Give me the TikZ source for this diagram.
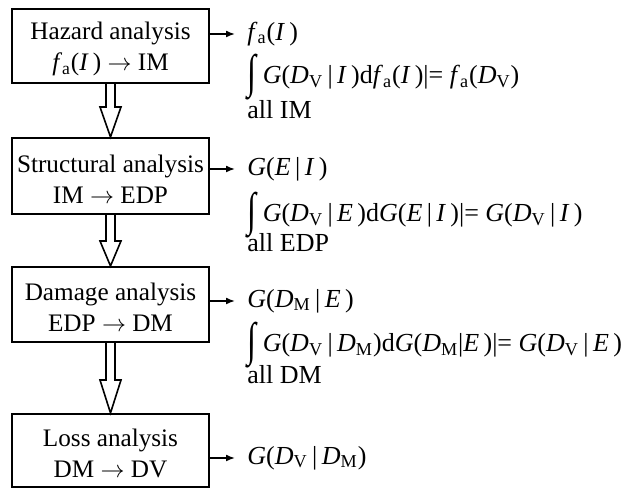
\documentclass[tikz,border=0pt]{standalone}
\usepackage{fontspec}
\setmainfont{Liberation Serif}
\usetikzlibrary{positioning, arrows.meta, calc}

\newcommand{\vi}[1]{\textit{#1}}
\newcommand{\subt}[1]{\textsubscript{#1}}
\newcommand{\given}{\hspace{0.17em}|\hspace{0.17em}}
\newcommand{\intsign}{\raisebox{-2pt}{\scalebox{1.25}[1.8]{∫}}\hspace{0.25em}}

\newcommand{\hollowarrow}[3]{% from, to, head length
  \draw[hollow]
    ($(#1.south)+(-4.5,0)$) -- ($(#2.north)+(-4.5,-#3)$) -- ++(-6,0)
    -- (#2.north) -- ($(#2.north)+(10.5,-#3)$) -- ++(-6,0)
    -- ($(#1.south)+(4.5,0)$);}

\begin{document}
\begin{tikzpicture}[x=0.5pt, y=-0.5pt,
    stage/.style={draw=black, line width=1pt, minimum width=98.5pt,
      align=center, inner sep=0pt, font=\fontsize{12.6}{15.5}\selectfont},
    result/.style={anchor=west, inner sep=0pt, font=\fontsize{13}{16}\selectfont},
    outarrow/.style={line width=0.8pt, -{Latex[length=4.5pt, width=3.5pt]}, shorten >=6pt},
    hollow/.style={line width=0.8pt, black, line join=miter}]
  \useasboundingbox (0,0) rectangle (628,490);

  % analysis stages
  \node[stage, minimum height=37pt] (hazard) at (110.5,46)
    {\rule{0pt}{12pt}Hazard analysis\\ \vi{f}\subt{a}(\vi{I}\,) $\rightarrow$ IM};
  \node[stage, minimum height=38pt] (struct) at (110.5,176)
    {\rule{0pt}{12pt}Structural analysis\\ IM $\rightarrow$ EDP};
  \node[stage, minimum height=37.5pt] (damage) at (110.5,304.5)
    {\rule{0pt}{12pt}Damage analysis\\ EDP $\rightarrow$ DM};
  \node[stage, minimum height=36.5pt] (loss) at (110.5,450.5)
    {\rule{0pt}{12pt}Loss analysis\\ DM $\rightarrow$ DV};

  \hollowarrow{hazard}{struct}{30}
  \hollowarrow{struct}{damage}{25}
  \hollowarrow{damage}{loss}{33}

  % results of each stage
  \node[result] (fa) at (247,34) {\vi{f}\subt{a}(\vi{I}\,)};
  \node[result] (intIM) at (247,77)
    {\intsign\vi{G}(\vi{D}\subt{V}\given\vi{I}\,)d\vi{f}\subt{a}(\vi{I}\,)|=\ \vi{f}\subt{a}(\vi{D}\subt{V})};
  \node[result] (allIM) at (247,110) {all IM};

  \node[result] (gEI) at (247,169) {\vi{G}(\vi{E}\given\vi{I}\,)};
  \node[result] (intEDP) at (247,215)
    {\intsign\vi{G}(\vi{D}\subt{V}\given\vi{E}\,)d\vi{G}(\vi{E}\given\vi{I}\,)|=\ \vi{G}(\vi{D}\subt{V}\given\vi{I}\,)};
  \node[result] (allEDP) at (247,243) {all EDP};

  \node[result] (gDE) at (247,301) {\vi{G}(\vi{D}\subt{M}\given\vi{E}\,)};
  \node[result] (intDM) at (247,345)
    {\intsign\vi{G}(\vi{D}\subt{V}\given\vi{D}\subt{M})d\vi{G}(\vi{D}\subt{M}|\vi{E}\,)|=\ \vi{G}(\vi{D}\subt{V}\given\vi{E}\,)};
  \node[result] (allDM) at (247,375) {all DM};

  \node[result] (gVD) at (247,458) {\vi{G}(\vi{D}\subt{V}\given\vi{D}\subt{M})};

  \draw[outarrow] (hazard.east |- fa.west) -- (fa.west);
  \draw[outarrow] (struct.east |- gEI.west) -- (gEI.west);
  \draw[outarrow] (damage.east |- gDE.west) -- (gDE.west);
  \draw[outarrow] (loss.east |- gVD.west) -- (gVD.west);
\end{tikzpicture}
\end{document}
